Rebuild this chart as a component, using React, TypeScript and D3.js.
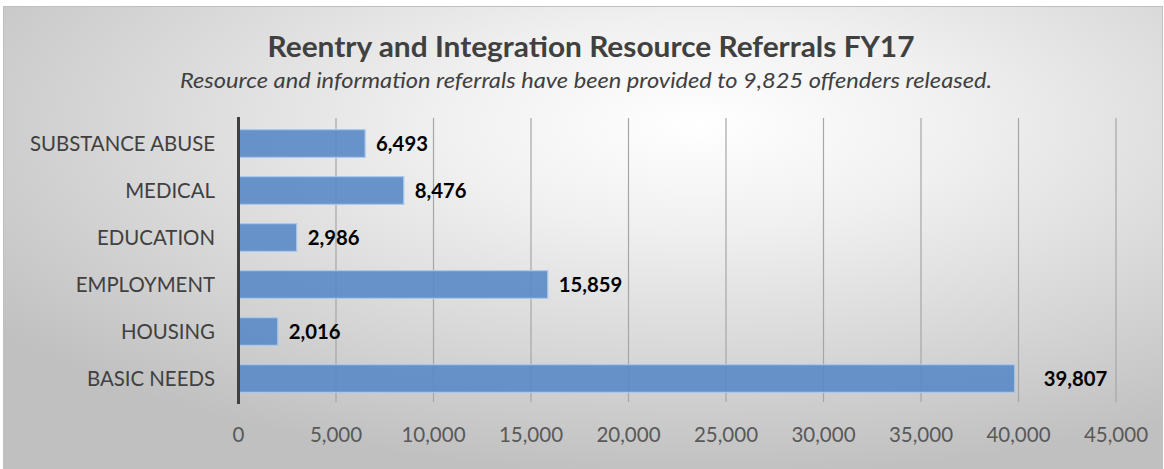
import React from "react";
import * as d3 from "d3";

const categories = ["SUBSTANCE ABUSE", "MEDICAL", "EDUCATION", "EMPLOYMENT", "HOUSING", "BASIC NEEDS"];
const values = [6493, 8476, 2986, 15859, 2016, 39807];
const ticks = [0, 5000, 10000, 15000, 20000, 25000, 30000, 35000, 40000, 45000];
const title = "Reentry and Integration Resource Referrals FY17";
const subtitle = "Resource and information referrals have been provided to 9,825 offenders released.";

const W = 1164;
const H = 469;
const FONT = "Lato, 'Open Sans', sans-serif";

export default function App() {
  const x = d3.scaleLinear().domain([0, 45000]).range([238.5, 1116]);
  const y = d3.scaleBand<string>().domain(categories).range([120, 402]).paddingInner(0.41).paddingOuter(0.205);
  const fmt = d3.format(",");
  const maxV = d3.max(values) as number;

  return (
    <svg width={W} height={H} style={{ position: "absolute", left: 0, top: 0, display: "block" }}>
      <defs>
        <radialGradient id="bg" cx="0.6" cy="0.25" r="0.75" gradientUnits="objectBoundingBox" fx="0.6" fy="0.25">
          <stop offset="0" stopColor="#ffffff" />
          <stop offset="0.3" stopColor="#f0f0f0" />
          <stop offset="1" stopColor="#c0c0c0" />
        </radialGradient>
      </defs>
      <rect x={0} y={0} width={W} height={H} fill="#ffffff" />
      <rect x={3.5} y={6.5} width={1159} height={470} fill="url(#bg)" stroke="#bfbfbf" strokeWidth={1} />
      <text x={591} y={57} textAnchor="middle" fontFamily={FONT} fontWeight={700} fontSize={29} fill="#404040" textLength={647} lengthAdjust="spacingAndGlyphs">
        {title}
      </text>
      <text x={586} y={88} textAnchor="middle" fontFamily={FONT} fontStyle="italic" fontSize={21} fill="#404040" textLength={812} lengthAdjust="spacingAndGlyphs">
        {subtitle}
      </text>
      {ticks.slice(1).map((t) => (
        <line key={t} x1={x(t)} x2={x(t)} y1={118} y2={402} stroke="#a6a6a6" strokeWidth={1.2} />
      ))}
      {categories.map((c, i) => {
        const v = values[i];
        const by = y(c) as number;
        const bh = y.bandwidth();
        const lx = v === maxV ? x(v) + 29 : x(v) + 11;
        return (
          <g key={c}>
            <rect
              x={x(0)}
              y={by}
              width={x(v) - x(0)}
              height={bh}
              fill="#5a8ac6"
              fillOpacity={0.9}
              stroke="#a9c8ec"
              strokeWidth={1.2}
            />
            <text x={215} y={by + bh / 2} dy="0.36em" textAnchor="end" fontFamily={FONT} fontSize={20.4} fill="#404040">
              {c}
            </text>
            <text x={lx} y={by + bh / 2} dy="0.36em" fontFamily={FONT} fontWeight={700} fontSize={20.3} fill="#000000">
              {fmt(v)}
            </text>
          </g>
        );
      })}
      <line x1={x(0)} x2={x(0)} y1={117} y2={404} stroke="#404040" strokeWidth={3} />
      {ticks.map((t) => (
        <text key={t} x={x(t)} y={442} textAnchor="middle" fontFamily={FONT} fontSize={20.5} fill="#595959">
          {fmt(t)}
        </text>
      ))}
    </svg>
  );
}
